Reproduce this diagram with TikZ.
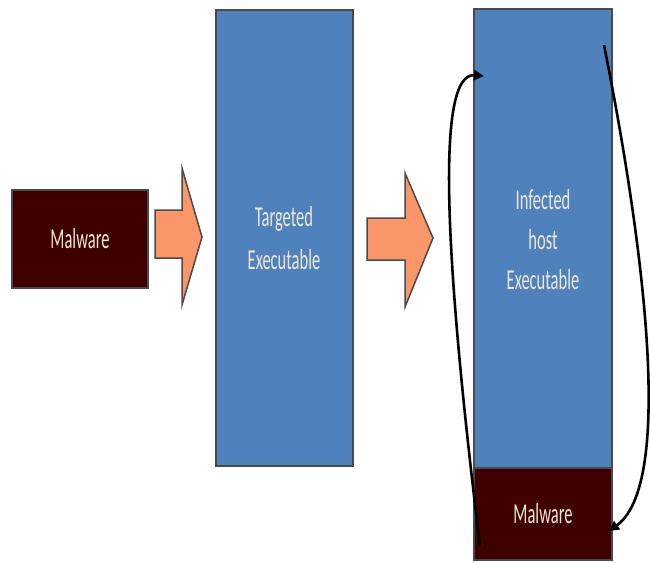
\documentclass[tikz,border=0pt]{standalone}
\usepackage{fontspec}
\usepackage{graphicx}
\setmainfont{Carlito}
\usetikzlibrary{arrows.meta}
\definecolor{blockblue}{HTML}{4F81BD}
\definecolor{malred}{HTML}{3F0000}
\definecolor{pushorange}{HTML}{FA9668}
\definecolor{labelcream}{HTML}{EEE8D2}
\definecolor{edgegray}{HTML}{4A4A4A}
\newcommand{\tallword}[1]{\scalebox{1}[1.75]{#1}}
\tikzset{
  block/.style={draw=edgegray, line width=1.5pt, inner sep=0pt, text=labelcream,
    font=\fontsize{16.5}{18}\selectfont, align=center},
  bluebox/.style={block, fill=blockblue},
  malbox/.style={block, fill=malred},
  boxlabel/.style={text=labelcream, font=\fontsize{16.5}{18}\selectfont},
  pusharrow/.style={draw=edgegray, line width=1.5pt, fill=pushorange, line join=miter},
  loopline/.style={black, line width=2.6pt, -{Triangle[length=10pt,width=10pt]}},
}
\begin{document}
\begin{tikzpicture}[x=1pt,y=-1pt]
\useasboundingbox (0,0) rectangle (650,562);

% first malware block and the target executable
\node[malbox, minimum width=136pt, minimum height=98pt] (mal1) at (80,239) {\tallword{Malware}};
\node[bluebox, minimum width=137pt, minimum height=456pt] (target) at (284.5,238) {};
\node[boxlabel] (tlab1) at (284,219) {\tallword{Targeted}};
\node[boxlabel] (tlab2) at (284,260) {\tallword{Executable}};

% infected host: executable on top, appended malware below
\node[bluebox, minimum width=138pt, minimum height=459pt] (infected) at (543,238.5) {};
\node[malbox, minimum width=138pt, minimum height=92pt] (mal2) at (543,514) {\tallword{Malware}};
\node[boxlabel] (ilab1) at (543,200) {\tallword{Infected}};
\node[boxlabel] (ilab2) at (543,240) {\tallword{host}};
\node[boxlabel] (ilab3) at (543,280) {\tallword{Executable}};

% block arrows
\draw[pusharrow] (155,210) -- (182,210) -- (182,168) -- (202,237) -- (182,305) -- (182,258) -- (155,258) -- cycle;
\draw[pusharrow] (367,218) -- (405,218) -- (405,173) -- (433,238) -- (405,307) -- (405,260) -- (367,260) -- cycle;

% control-flow loops
\coordinate (lstart) at (480,546);
\coordinate (lend) at (484,76);
\coordinate (rstart) at (604,45);
\coordinate (rend) at (609,531);
\draw[loopline] (lstart) .. controls (445,260) and (435,72) .. (lend);
\draw[loopline] (rstart) .. controls (635,200) and (680,480) .. (rend);
\end{tikzpicture}
\end{document}
